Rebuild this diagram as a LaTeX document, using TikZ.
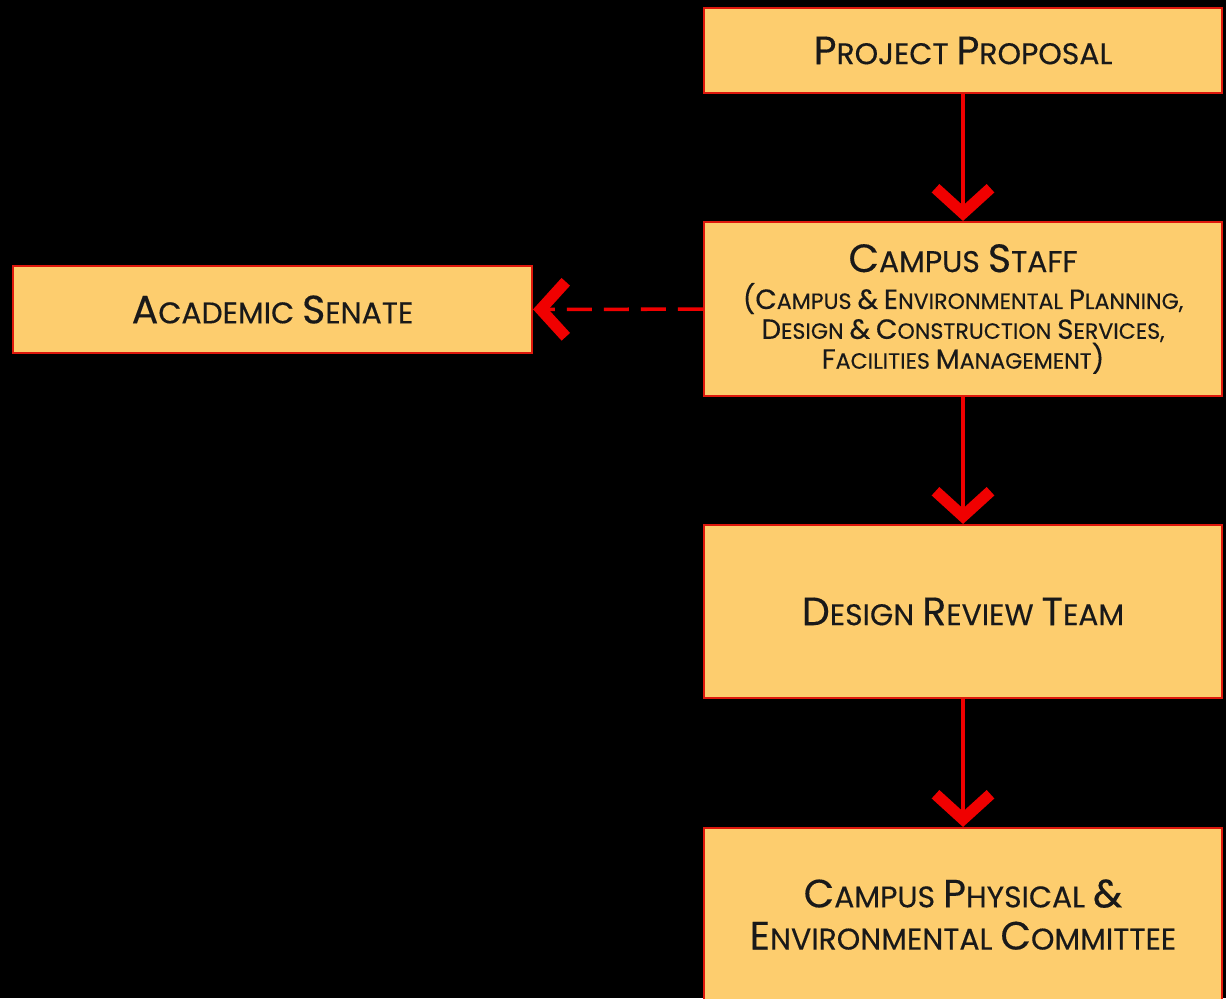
\documentclass[tikz,border=0pt]{standalone}
\usepackage{fontspec}
\setmainfont{Poppins}[FakeBold=0.35]
\usetikzlibrary{arrows.meta,positioning}
\definecolor{boxfill}{RGB}{253,205,110}
\definecolor{boxline}{RGB}{222,24,12}
\definecolor{flowred}{RGB}{240,0,0}
% faux small caps: big initial, smaller capitals
\newcommand{\bigsz}{\fontsize{22.5}{24}\selectfont}
\newcommand{\smsz}{\fontsize{17}{24}\selectfont}
\newcommand{\subbig}{\fontsize{15.8}{17}\selectfont}
\newcommand{\subsm}{\fontsize{12.6}{17}\selectfont}
\newcommand{\cw}[2]{{\bigsz #1}#2}
\newcommand{\sw}[2]{{\subbig #1}#2}
\tikzset{
  stepbox/.style={rectangle, draw=boxline, fill=boxfill, line width=1.2pt,
    minimum width=10.36cm, align=center, text=black!90, font=\smsz},
  flow/.style={draw=flowred, line width=2pt,
    -{Straight Barb[length=5mm, width=11mm, line width=6.5pt, line cap=butt, line join=miter]}},
  every picture/.style={line join=miter}
}
\begin{document}
\begin{tikzpicture}
  \useasboundingbox (0,0) rectangle (24.52,-19.96);
  \fill[black] (0,0) rectangle (24.52,-19.96);

  \node[stepbox, minimum height=1.70cm] (proposal) at (19.26,-1.01) {\cw{P}{ROJECT} \cw{P}{ROPOSAL}};
  \node[stepbox, minimum height=3.48cm, font=\subsm] (staff) at (19.26,-6.18)
    {{\smsz\cw{C}{AMPUS} \cw{S}{TAFF}}\\[4pt]
     \sw{(C}{AMPUS} {\subbig\&} \sw{E}{NVIRONMENTAL} \sw{P}{LANNING},\\
     \sw{D}{ESIGN} {\subbig\&} \sw{C}{ONSTRUCTION} \sw{S}{ERVICES},\\
     \sw{F}{ACILITIES} \sw{M}{ANAGEMENT}{\subbig)}};
  \node[stepbox, minimum height=3.46cm] (review) at (19.26,-12.23) {\cw{D}{ESIGN} \cw{R}{EVIEW} \cw{T}{EAM}};
  \node[stepbox, minimum height=3.46cm] (committee) at (19.26,-18.29)
    {\cw{C}{AMPUS} \cw{P}{HYSICAL} {\bigsz\&}\\ \cw{E}{NVIRONMENTAL} \cw{C}{OMMITTEE}};
  \node[stepbox, minimum width=10.38cm, minimum height=1.74cm] (senate) at (5.45,-6.19) {\cw{A}{CADEMIC} \cw{S}{ENATE}};

  \draw[flow] (proposal) -- (staff);
  \draw[flow] (staff) -- (review);
  \draw[flow] (review) -- (committee);
  \draw[flow, dash pattern=on 0.5cm off 0.24cm] (staff) -- (senate);
\end{tikzpicture}
\end{document}
